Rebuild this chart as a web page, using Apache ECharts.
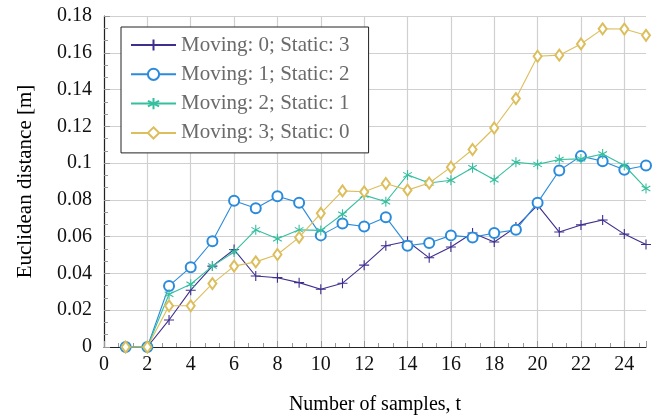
<!DOCTYPE html>
<html>
<head>
<meta charset="utf-8">
<script src="https://cdn.jsdelivr.net/npm/echarts@6/dist/echarts.min.js"></script>
<style>html,body{margin:0;padding:0;background:#fff}#c{width:667px;height:420px}</style>
</head>
<body>
<div id="c"></div>
<script>
const samples = [1,2,3,4,5,6,7,8,9,10,11,12,13,14,15,16,17,18,19,20,21,22,23,24,25];
const seriesNames = ['Moving: 0; Static: 3','Moving: 1; Static: 2','Moving: 2; Static: 1','Moving: 3; Static: 0'];
const moving0 = [0,0,0.0147,0.0309,0.044,0.053,0.0386,0.0377,0.035,0.0314,0.0347,0.0445,0.0551,0.0575,0.0485,0.0544,0.062,0.0571,0.0652,0.0772,0.0625,0.0664,0.0691,0.0614,0.0557];
const moving1 = [0,0,0.0332,0.0434,0.0575,0.0795,0.0754,0.082,0.0785,0.0607,0.0671,0.0655,0.0706,0.0551,0.0566,0.0607,0.0596,0.062,0.0637,0.0785,0.096,0.1038,0.101,0.0964,0.0987];
const moving2 = [0,0,0.0287,0.0341,0.044,0.0517,0.0637,0.0589,0.0637,0.0634,0.0722,0.0826,0.079,0.0936,0.0892,0.0907,0.0975,0.091,0.1005,0.0993,0.102,0.1023,0.105,0.0987,0.0862];
const moving3 = [0,0,0.0224,0.0224,0.0345,0.044,0.0463,0.0503,0.0596,0.0727,0.0849,0.0844,0.0889,0.0853,0.0892,0.0978,0.1074,0.1191,0.1351,0.1581,0.1587,0.1648,0.173,0.1729,0.1695];
const xTitle = 'Number of samples, t';
const yTitle = 'Euclidean distance [m]';

const colors = ['#3f2e8e','#2a8bdc','#35bf9f','#dcbe5c'];
const symbols = [
  'path://M0,-1L0,1M-1,0L1,0',
  'emptyCircle',
  'path://M0,-1L0,1M-0.866,-0.5L0.866,0.5M-0.866,0.5L0.866,-0.5',
  'emptyDiamond'
];
const sizes = [10, 10, 10, [8, 11]];
const allData = [moving0, moving1, moving2, moving3];
const FONT = 'Liberation Serif';

const chart = echarts.init(document.getElementById('c'), null, {renderer: 'canvas'});
chart.setOption({
  animation: false,
  backgroundColor: '#fff',
  textStyle: {fontFamily: FONT},
  grid: {left: 104, right: 21, top: 16, bottom: 70, containLabel: false},
  legend: {
    left: 121, top: 27, orient: 'vertical',
    backgroundColor: '#fff', borderColor: '#222', borderWidth: 1, borderRadius: 0,
    padding: [7, 19, 9, 9],
    itemWidth: 45, itemHeight: 14, itemGap: 7.3,
    textStyle: {fontFamily: FONT, fontSize: 21, color: '#6a6a6a', lineHeight: 22},
    data: seriesNames
  },
  xAxis: {
    type: 'value', min: 0, max: 25, interval: 2,
    name: xTitle, nameLocation: 'middle', nameGap: 48,
    nameTextStyle: {fontFamily: FONT, fontSize: 20, color: '#000'},
    axisLine: {show: true, lineStyle: {color: '#222', width: 1.2}},
    axisTick: {show: true, inside: true, length: 6, lineStyle: {color: '#999'}},
    minorTick: {show: true, splitNumber: 3, length: 4, lineStyle: {color: '#999'}},
    axisLabel: {fontFamily: FONT, fontSize: 20, color: '#111', margin: 8, showMaxLabel: false},
    splitLine: {show: true, showMaxLine: false, lineStyle: {color: '#d0d0d0', width: 1.2}}
  },
  yAxis: {
    type: 'value', min: 0, max: 0.18, interval: 0.02,
    name: yTitle, nameLocation: 'middle', nameGap: 68, nameRotate: 90,
    nameTextStyle: {fontFamily: FONT, fontSize: 21, color: '#000'},
    axisLine: {show: true, lineStyle: {color: '#222', width: 1.2}},
    axisTick: {show: true, inside: true, length: 6, lineStyle: {color: '#999'}},
    minorTick: {show: true, splitNumber: 3, length: 4, lineStyle: {color: '#999'}},
    axisLabel: {fontFamily: FONT, fontSize: 20, color: '#111', margin: 12},
    splitLine: {show: true, lineStyle: {color: '#d0d0d0', width: 1.2}}
  },
  series: allData.map((d, i) => ({
    name: seriesNames[i],
    type: 'line',
    data: samples.map((t, j) => [t, d[j]]),
    symbol: symbols[i],
    symbolSize: sizes[i],
    symbolKeepAspect: true,
    showAllSymbol: true,
    clip: false,
    lineStyle: {color: colors[i], width: 1.1},
    itemStyle: {color: colors[i], borderColor: colors[i], borderWidth: 1.1},
    emphasis: {disabled: true},
    z: 2 + i
  }))
});
</script>
</body>
</html>
